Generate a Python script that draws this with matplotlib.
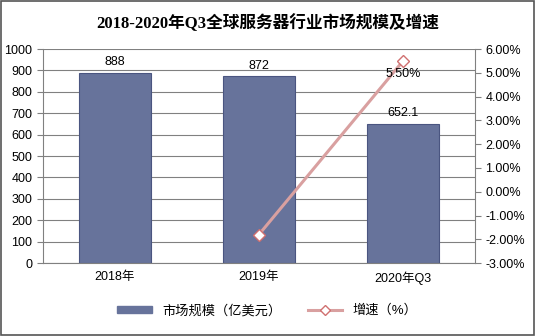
import matplotlib.pyplot as plt
from matplotlib.ticker import FuncFormatter

plt.rcParams['font.family'] = ['Liberation Sans', 'Noto Sans CJK SC']

years = ["2018年", "2019年", "2020年Q3"]
market = [888, 872, 652.1]
growth_x = [1, 2]
growth = [-1.8, 5.5]

fig = plt.figure(figsize=(5.35, 3.36), dpi=100)
fig.patches.append(plt.Rectangle((0.002, 0.003), 0.996, 0.994, transform=fig.transFigure,
                                 fill=False, edgecolor='#555555', linewidth=1.2))
ax = fig.add_axes([0.080, 0.217, 0.808, 0.637])

x = range(len(years))
ax.bar(x, market, width=0.5, color='#67739B', edgecolor='#4A5580', linewidth=0.8, zorder=2)
for i, v in enumerate(market):
    ax.text(i, v + 22, f"{v:g}", ha='center', va='bottom', fontsize=9)

ax.set_ylim(0, 1000)
ax.set_yticks(range(0, 1001, 100))
ax.set_xlim(-0.5, 2.5)
ax.set_xticks(list(x))
ax.set_xticklabels(years, fontsize=9)
ax.tick_params(axis='y', labelsize=9, length=4, color='#808080')
ax.tick_params(axis='x', length=0, pad=6)
ax.grid(axis='y', color='#808080', linewidth=0.8, zorder=0)
for s in ['top', 'right']:
    ax.spines[s].set_visible(False)
ax.spines['left'].set_color('#808080')
ax.spines['bottom'].set_color('#808080')

ax2 = ax.twinx()
ax2.plot(growth_x, growth, color='#D9A0A0', linewidth=2.2, marker='D', markersize=6,
         markerfacecolor='white', markeredgecolor='#D07070', markeredgewidth=1, zorder=3)
ax2.text(2, growth[-1] - 0.3, "5.50%", ha='center', va='top', fontsize=9)
ax2.set_ylim(-3, 6)
ax2.set_yticks(range(-3, 7))
ax2.yaxis.set_major_formatter(FuncFormatter(lambda v, p: f"{v:.2f}%"))
ax2.tick_params(axis='y', labelsize=9, length=4, color='#808080')
for s in ['top', 'left', 'bottom']:
    ax2.spines[s].set_visible(False)
ax2.spines['right'].set_color('#808080')

fig.text(0.5, 0.93, "2018-2020年Q3全球服务器行业市场规模及增速", ha='center', va='center',
         fontsize=12, fontweight='bold', family=['Liberation Serif', 'Noto Sans CJK SC'])

h1 = plt.Rectangle((0, 0), 1, 1, color='#67739B')
h2, = ax2.plot([], [], color='#D9A0A0', linewidth=2.2, marker='D', markersize=5,
               markerfacecolor='white', markeredgecolor='#D07070')
fig.legend([h1, h2], ["市场规模（亿美元）", "增速（%）"], loc='center', bbox_to_anchor=(0.5, 0.075),
           ncol=2, frameon=False, fontsize=9.5, handlelength=2.6, handleheight=0.4, columnspacing=2)

fig.savefig("out.png", dpi=100)
